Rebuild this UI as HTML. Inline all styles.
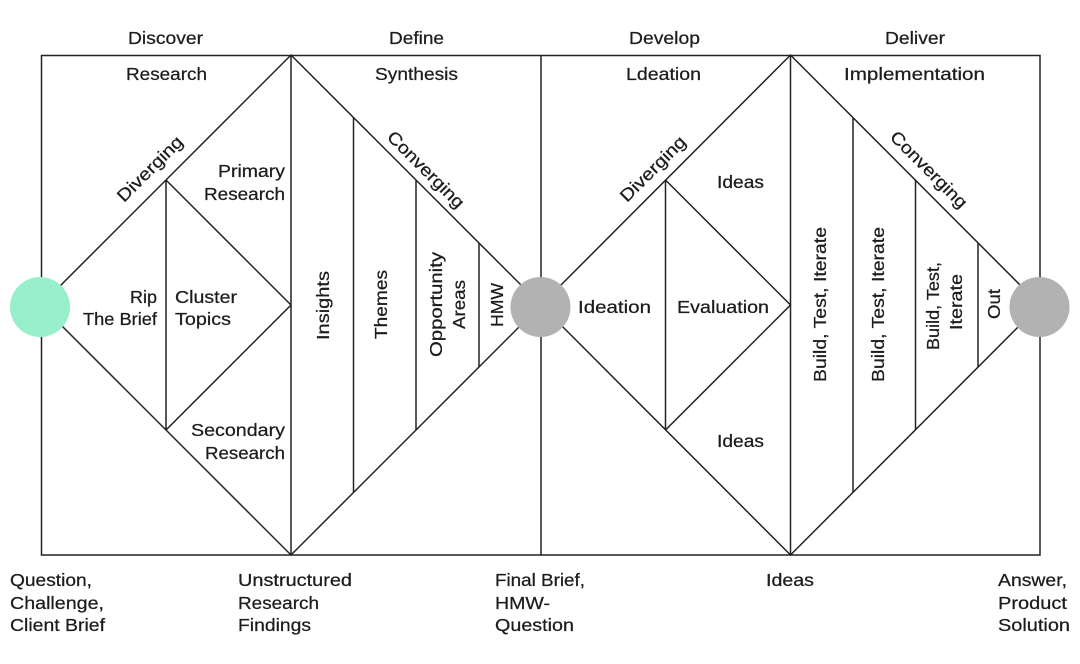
<!DOCTYPE html>
<html>
<head>
<meta charset="utf-8">
<style>
html,body{margin:0;padding:0;background:#fff;width:1080px;height:664px;overflow:hidden}
svg{display:block}
text{font-family:"Liberation Sans",Arial,sans-serif;font-size:17.5px;fill:#1c1c1c;stroke:#1c1c1c;stroke-width:.25}
.l{fill:none;stroke:#222;stroke-width:1.5}
</style>
</head>
<body>
<svg width="1080" height="664" viewBox="0 0 1080 664" xmlns="http://www.w3.org/2000/svg">
<rect class="l" x="41.5" y="55.5" width="998.5" height="499.5"/>
<path class="l" d="M41 305L291 55L541 305L790.500 55L1040 305L790.500 555L541 305L291 555ZM291 55V555M541 55V555M790.500 55V555M166 180V430M166 180L291 305L166 430M353.500 118V492M416 180V430M479 243V367M665.500 180V430M665.500 180L790.500 305L665.500 430M853 118V492M915.500 180V430M978 243V367"/>
<circle cx="40" cy="307" r="30" fill="#98efcc"/>
<circle cx="540.500" cy="307" r="30" fill="#b2b2b2"/>
<circle cx="1039.500" cy="307" r="30" fill="#b2b2b2"/>

<text x="128" y="44" textLength="75" lengthAdjust="spacingAndGlyphs">Discover</text>
<text x="389" y="44" textLength="55" lengthAdjust="spacingAndGlyphs">Define</text>
<text x="629" y="44" textLength="71" lengthAdjust="spacingAndGlyphs">Develop</text>
<text x="885" y="44" textLength="60" lengthAdjust="spacingAndGlyphs">Deliver</text>
<text x="126" y="80" textLength="81" lengthAdjust="spacingAndGlyphs">Research</text>
<text x="375" y="80" textLength="83" lengthAdjust="spacingAndGlyphs">Synthesis</text>
<text x="626" y="80" textLength="75" lengthAdjust="spacingAndGlyphs">Ldeation</text>
<text x="844" y="80" textLength="141" lengthAdjust="spacingAndGlyphs">Implementation</text>

<text x="218" y="177" textLength="67" lengthAdjust="spacingAndGlyphs">Primary</text>
<text x="204" y="200" textLength="81" lengthAdjust="spacingAndGlyphs">Research</text>
<text x="130" y="303" textLength="27" lengthAdjust="spacingAndGlyphs">Rip</text>
<text x="83" y="325" textLength="74" lengthAdjust="spacingAndGlyphs">The Brief</text>
<text x="175" y="303" textLength="62" lengthAdjust="spacingAndGlyphs">Cluster</text>
<text x="175" y="325" textLength="56" lengthAdjust="spacingAndGlyphs">Topics</text>
<text x="191" y="436" textLength="94" lengthAdjust="spacingAndGlyphs">Secondary</text>
<text x="205" y="459" textLength="80" lengthAdjust="spacingAndGlyphs">Research</text>
<text x="578" y="313" textLength="73" lengthAdjust="spacingAndGlyphs">Ideation</text>
<text x="677" y="313" textLength="92" lengthAdjust="spacingAndGlyphs">Evaluation</text>
<text x="717" y="188" textLength="47" lengthAdjust="spacingAndGlyphs">Ideas</text>
<text x="717" y="447" textLength="47" lengthAdjust="spacingAndGlyphs">Ideas</text>

<text x="10" y="586" textLength="82" lengthAdjust="spacingAndGlyphs">Question,</text>
<text x="10" y="609" textLength="94" lengthAdjust="spacingAndGlyphs">Challenge,</text>
<text x="10" y="631" textLength="95" lengthAdjust="spacingAndGlyphs">Client Brief</text>
<text x="238" y="586" textLength="114" lengthAdjust="spacingAndGlyphs">Unstructured</text>
<text x="238" y="609" textLength="81" lengthAdjust="spacingAndGlyphs">Research</text>
<text x="238" y="631" textLength="73" lengthAdjust="spacingAndGlyphs">Findings</text>
<text x="495" y="586" textLength="90" lengthAdjust="spacingAndGlyphs">Final Brief,</text>
<text x="495" y="609" textLength="55" lengthAdjust="spacingAndGlyphs">HMW-</text>
<text x="495" y="631" textLength="79" lengthAdjust="spacingAndGlyphs">Question</text>
<text x="766" y="586" textLength="48" lengthAdjust="spacingAndGlyphs">Ideas</text>
<text x="998" y="586" textLength="69" lengthAdjust="spacingAndGlyphs">Answer,</text>
<text x="998" y="609" textLength="69" lengthAdjust="spacingAndGlyphs">Product</text>
<text x="998" y="631" textLength="72" lengthAdjust="spacingAndGlyphs">Solution</text>

<text transform="translate(329 340) rotate(-90)" textLength="69" lengthAdjust="spacingAndGlyphs">Insights</text>
<text transform="translate(387 339) rotate(-90)" textLength="69" lengthAdjust="spacingAndGlyphs">Themes</text>
<text transform="translate(442 357) rotate(-90)" textLength="105" lengthAdjust="spacingAndGlyphs">Opportunity</text>
<text transform="translate(465 329) rotate(-90)" textLength="49" lengthAdjust="spacingAndGlyphs">Areas</text>
<text transform="translate(503 327) rotate(-90)" textLength="44" lengthAdjust="spacingAndGlyphs">HMW</text>
<text transform="translate(826 382) rotate(-90)" textLength="155" lengthAdjust="spacingAndGlyphs">Build, Test, Iterate</text>
<text transform="translate(884 382) rotate(-90)" textLength="155" lengthAdjust="spacingAndGlyphs">Build, Test, Iterate</text>
<text transform="translate(939 350) rotate(-90)" textLength="88" lengthAdjust="spacingAndGlyphs">Build, Test,</text>
<text transform="translate(962 330) rotate(-90)" textLength="56" lengthAdjust="spacingAndGlyphs">Iterate</text>
<text transform="translate(1000 319) rotate(-90)" textLength="30" lengthAdjust="spacingAndGlyphs">Out</text>

<text transform="translate(124 203) rotate(-45)" textLength="85" lengthAdjust="spacingAndGlyphs">Diverging</text>
<text transform="translate(627 203) rotate(-45)" textLength="85" lengthAdjust="spacingAndGlyphs">Diverging</text>
<text transform="translate(386 138) rotate(45)" textLength="101" lengthAdjust="spacingAndGlyphs">Converging</text>
<text transform="translate(889 138) rotate(45)" textLength="101" lengthAdjust="spacingAndGlyphs">Converging</text>
</svg>
</body>
</html>
